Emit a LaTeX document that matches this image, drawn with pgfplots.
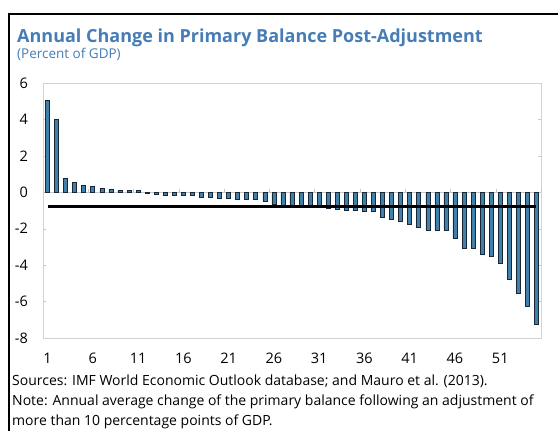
\documentclass[border=0pt]{standalone}
\usepackage{pgfplots}
\pgfplotsset{compat=1.18}
\usepackage{pgfplotstable}
\usepackage{fontspec}
\setmainfont{Open Sans}
\definecolor{titleblue}{RGB}{70,125,182}
\definecolor{barfill}{RGB}{66,128,172}
\definecolor{barline}{RGB}{25,40,55}
\pgfplotstableread{
x y
1 5.05
2 4.00
3 0.77
4 0.55
5 0.38
6 0.31
7 0.22
8 0.18
9 0.11
10 0.11
11 0.09
12 -0.03
13 -0.10
14 -0.15
15 -0.15
16 -0.16
17 -0.18
18 -0.30
19 -0.30
20 -0.35
21 -0.35
22 -0.36
23 -0.38
24 -0.40
25 -0.51
26 -0.66
27 -0.70
28 -0.70
29 -0.71
30 -0.75
31 -0.85
32 -0.89
33 -0.93
34 -1.00
35 -1.00
36 -1.03
37 -1.06
38 -1.39
39 -1.50
40 -1.60
41 -1.74
42 -1.94
43 -2.06
44 -2.07
45 -2.10
46 -2.55
47 -3.07
48 -3.08
49 -3.41
50 -3.52
51 -3.92
52 -4.79
53 -5.53
54 -6.26
55 -7.23
}\bars
\pgfplotstableread{
x y
1 -0.77
55 -0.77
}\avgline
\begin{document}
\begin{tikzpicture}
\fill[white] (0pt,0pt) rectangle (558pt,431pt);
\node[anchor=base west, inner sep=0pt, text=titleblue, font=\fontsize{18}{21}\selectfont\bfseries] at (17pt,388pt) {Annual Change in Primary Balance Post-Adjustment};
\node[anchor=base west, inner sep=0pt, text=titleblue, font=\fontsize{13.5}{16}\selectfont] at (17pt,372pt) {(Percent of GDP)};
\node[anchor=base west, inner sep=0pt, font=\fontsize{14}{17}\selectfont] at (12pt,45pt) {Sources: IMF World Economic Outlook database; and Mauro et al. (2013).};
\node[anchor=base west, inner sep=0pt, font=\fontsize{14}{17}\selectfont] at (12pt,25pt) {Note: Annual average change of the primary balance following an adjustment of};
\node[anchor=base west, inner sep=0pt, font=\fontsize{14}{17}\selectfont] at (12pt,5pt) {more than 10 percentage points of GDP.};
\begin{axis}[
  at={(43pt,93pt)}, anchor=south west,
  scale only axis, width=498pt, height=255pt,
  xmin=0.5, xmax=55.5, ymin=-8, ymax=6,
  axis line style={gray!35},
  xtick={1,6,...,51},
  ytick={-8,-6,...,6},
  x tick style={draw=none},
  y tick style={gray!45},
  tick align=inside, major tick length=3pt,
  /pgf/number format/assume math mode=true,
  ticklabel style={font=\fontsize{14.5}{17}\selectfont},
  yticklabel style={inner sep=0pt, xshift=-15pt},
  xticklabel style={inner sep=0pt, yshift=-15pt},
  clip=false,
]
\draw[gray!45] (axis cs:0.5,0) -- (axis cs:55.5,0);
\pgfplotsinvokeforeach{0.5,5.5,10.5,15.5,20.5,25.5,30.5,35.5,40.5,45.5,50.5,55.5}{\draw[gray!45] (axis cs:#1,0) -- (axis cs:#1,0.17);}
\addplot[ybar, bar width=4pt, bar shift=0pt, fill=barfill, draw=barline, line width=0.6pt] table[x=x,y=y] {\bars};
\addplot[black, line width=2.5pt] table[x=x,y=y] {\avgline};
\end{axis}
\fill[black] (8pt,0pt) rectangle (10pt,418pt);
\fill[black] (8pt,416pt) rectangle (558pt,418pt);
\end{tikzpicture}
\end{document}
